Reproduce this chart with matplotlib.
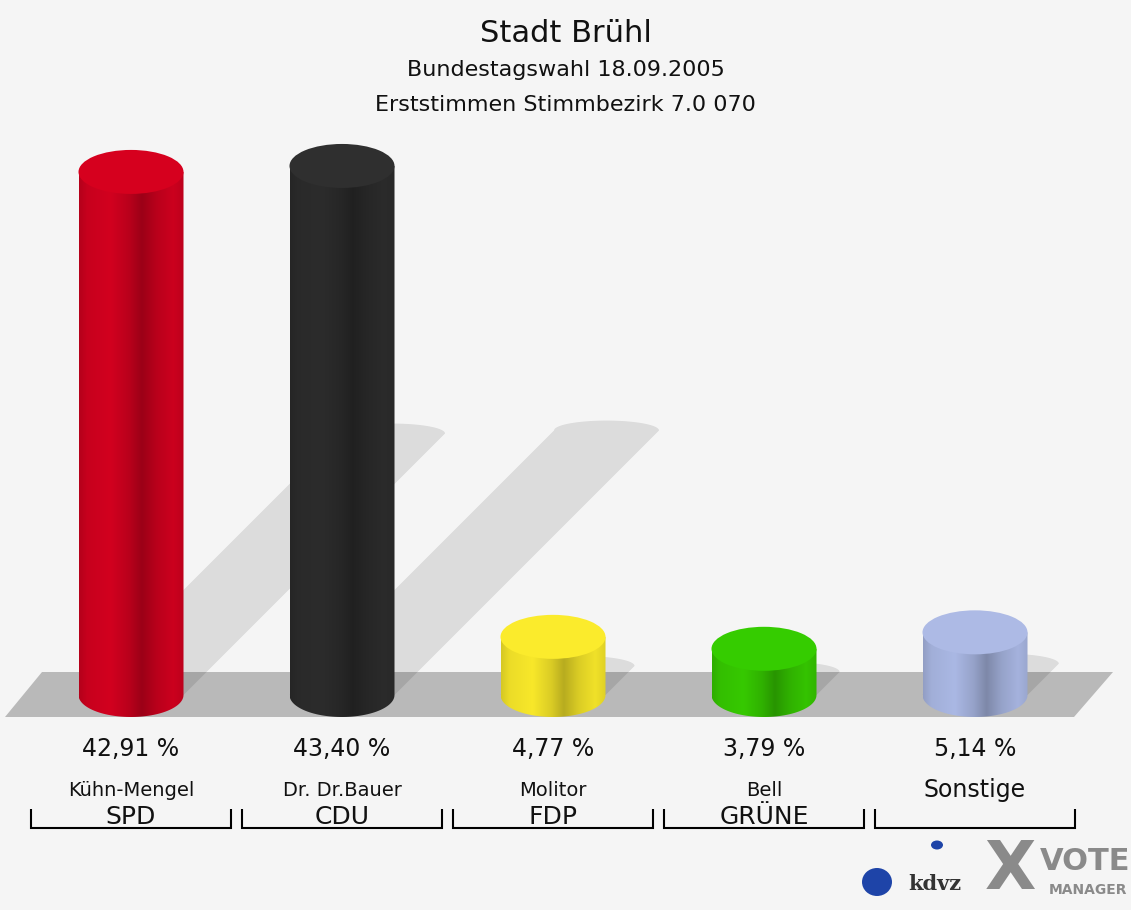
import numpy as np
import matplotlib
matplotlib.use("Agg")
import matplotlib.pyplot as plt
from matplotlib.patches import Ellipse, Polygon, PathPatch
from matplotlib.path import Path
from matplotlib.colors import to_rgb
import matplotlib.transforms as mtransforms

# data
parties = ["SPD", "CDU", "FDP", "GRÜNE", "Sonstige"]
candidates = ["Kühn-Mengel", "Dr. Dr.Bauer", "Molitor", "Bell", ""]
shares = [42.91, 43.40, 4.77, 3.79, 5.14]
colors = ["#d2001f", "#2c2c2c", "#f8e82a", "#36c900", "#aab8e4"]
top_colors = ["#d6001e", "#2f2f2f", "#fbeb2c", "#35cc00", "#adbae5"]

title = "Stadt Brühl"
subtitle1 = "Bundestagswahl 18.09.2005"
subtitle2 = "Erststimmen Stimmbezirk 7.0 070"

# layout (pixels)
W, H = 1131, 910
X0, DX = 131, 211        # centre of first bar, spacing
Y0, PXPCT = 695, 12.19   # baseline (from top), pixels per percent
BAR_W = 105 / DX
SEMI = 22 / PXPCT
BG = "#f5f5f5"

plt.rcParams["font.family"] = "DejaVu Sans"
fig = plt.figure(figsize=(W / 100, H / 100), dpi=100, facecolor=BG)
ax = fig.add_axes([0, 0, 1, 1])
ax.set_facecolor(BG)
ax.set_xlim(-X0 / DX, (W - X0) / DX)
ax.set_ylim(-(H - Y0) / PXPCT, Y0 / PXPCT)
ax.axis("off")


def px(x, y):
    return ((x - X0) / DX, (Y0 - y) / PXPCT)


# floor
floor = Polygon([px(5, 717), px(42, 672), px(1113, 672), px(1074, 717)],
                closed=True, facecolor="#b9b9b9", edgecolor="none", zorder=1)
ax.add_patch(floor)

# shadows (slanted strip with rounded top)
half = np.linspace(0, np.pi, 40)
for i, v in enumerate(shares):
    dy = 0.5 * v
    dx = dy * PXPCT / DX
    cx = i + dx
    arc_x = cx + BAR_W / 2 * np.cos(half)
    arc_y = dy + SEMI * 0.45 * np.sin(half)
    verts = [(i - BAR_W / 2, 0), (i + BAR_W / 2, 0)] + list(zip(arc_x, arc_y))
    ax.add_patch(Polygon(verts, closed=True, facecolor="black", alpha=0.1,
                         edgecolor="none", zorder=2))

# cylinders
t_pts = [0, 0.08, 0.3, 0.48, 0.6, 0.74, 0.9, 1.0]
f_pts = [0.86, 0.95, 1.0, 0.88, 0.74, 0.88, 0.97, 0.9]
tt = np.linspace(0, 1, 200)
shade = np.interp(tt, t_pts, f_pts)
theta = np.linspace(np.pi, 2 * np.pi, 60)

for i, v in enumerate(shares):
    left, right = i - BAR_W / 2, i + BAR_W / 2
    ex = i + BAR_W / 2 * np.cos(theta)
    ey = SEMI * np.sin(theta)
    verts = [(left, v), (left, 0)] + list(zip(ex, ey)) + [(right, 0), (right, v), (left, v)]
    codes = [Path.MOVETO] + [Path.LINETO] * (len(verts) - 2) + [Path.CLOSEPOLY]
    body = PathPatch(Path(verts, codes), facecolor="none", edgecolor="none", zorder=3)
    ax.add_patch(body)
    base = np.array(to_rgb(colors[i]))
    grad = np.clip(base[None, None, :] * shade[None, :, None], 0, 1)
    im = ax.imshow(grad, extent=(left, right, -SEMI, v), aspect="auto",
                   interpolation="bilinear", zorder=3)
    im.set_clip_path(body)
    ax.add_patch(Ellipse((i, v), BAR_W, 2 * SEMI, facecolor=top_colors[i],
                         edgecolor="none", zorder=4))

# titles
fig.text(0.5, 1 - 33 / H, title, ha="center", va="center", fontsize=22,
         color="#111111")
fig.text(0.5, 1 - 70 / H, subtitle1, ha="center", va="center", fontsize=16,
         color="#111111")
fig.text(0.5, 1 - 105 / H, subtitle2, ha="center", va="center", fontsize=16,
         color="#111111")

# labels under bars
trans = mtransforms.blended_transform_factory(ax.transData, ax.transAxes)
for i, v in enumerate(shares):
    ax.text(i, 1 - 749 / H, f"{v:.2f} %".replace(".", ","), transform=trans,
            ha="center", va="center", fontsize=17, color="#111111")
    if candidates[i]:
        ax.text(i, 1 - 790 / H, candidates[i], transform=trans,
                ha="center", va="center", fontsize=14, color="#111111")
        ax.text(i, 1 - 817 / H, parties[i], transform=trans,
                ha="center", va="center", fontsize=18, color="#111111")
    else:
        ax.text(i, 1 - 790 / H, parties[i], transform=trans,
                ha="center", va="center", fontsize=17, color="#111111")
    # bracket
    bl, br = i - 100 / DX, i + 100 / DX
    ax.plot([bl, bl, br, br], [1 - 809 / H, 1 - 828 / H, 1 - 828 / H, 1 - 809 / H],
            color="black", lw=1.5, transform=trans, solid_capstyle="butt",
            solid_joinstyle="miter", zorder=5)


# logo
def fxy(x, y):
    return (x / W, 1 - y / H)


fig.patches.append(Ellipse(fxy(877, 882), 30 / W, 28 / H, transform=fig.transFigure,
                           facecolor="#1e44a8", edgecolor="none"))
fig.patches.append(Ellipse(fxy(937, 845), 12 / W, 9 / H, transform=fig.transFigure,
                           facecolor="#1e44a8", edgecolor="none"))
fig.text(*fxy(935, 884), "kdvz", ha="center", va="center", fontsize=15,
         fontweight="bold", family="DejaVu Serif", color="#333333")
fig.text(*fxy(1010, 870), "X", ha="center", va="center", fontsize=48,
         fontweight="bold", color="#8a8a8a")
fig.text(*fxy(1085, 862), "VOTE", ha="center", va="center", fontsize=22,
         fontweight="bold", color="#8a8a8a")
fig.text(*fxy(1088, 890), "MANAGER", ha="center", va="center", fontsize=10,
         fontweight="bold", color="#8a8a8a")

fig.savefig("out.png", dpi=100, facecolor=BG)
